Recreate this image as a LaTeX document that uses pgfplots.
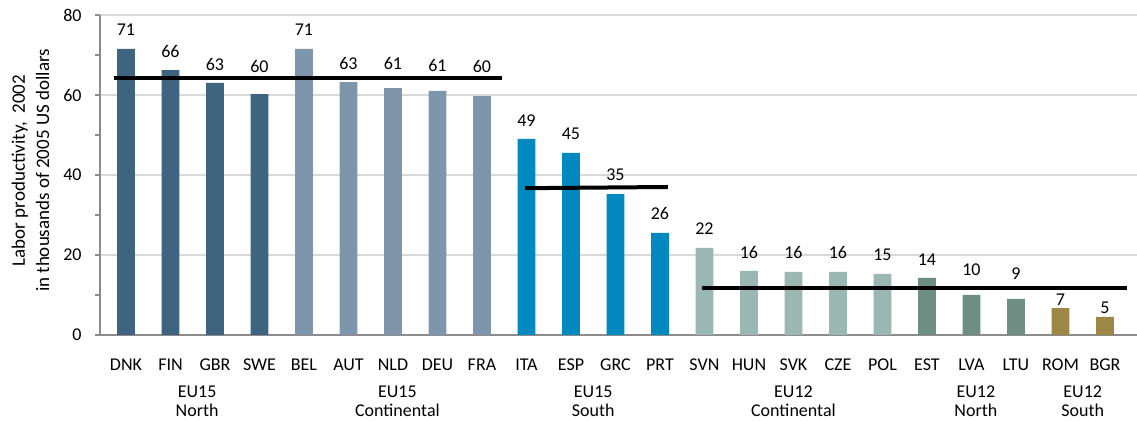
\documentclass[border=0pt]{standalone}
\usepackage{fontspec}
\setmainfont{Carlito}
\usepackage{pgfplots}
\pgfplotsset{compat=1.18}
\definecolor{cN}{HTML}{3F6480}
\definecolor{cC}{HTML}{7F95AC}
\definecolor{cS}{HTML}{0089BE}
\definecolor{dC}{HTML}{9AB7B1}
\definecolor{dN}{HTML}{6E8E84}
\definecolor{dS}{HTML}{9C8746}
\definecolor{axgray}{HTML}{8C8C8C}
\definecolor{gridgray}{HTML}{D9D9D9}
\begin{document}
\begin{tikzpicture}
\begin{axis}[
  scale only axis, width=518.5pt, height=160pt,
  xmin=-0.584, xmax=22.72, ymin=0, ymax=80,
  ybar, bar width=0.4, bar shift=0pt,
  font=\fontsize{9}{10.5}\selectfont,
  /pgf/number format/assume math mode=true,
  axis x line*=bottom, axis y line*=left,
  axis line style={axgray, line width=0.8pt},
  xtick={0,...,22},
  xticklabels={DNK,FIN,GBR,SWE,BEL,AUT,NLD,DEU,FRA,ITA,ESP,GRC,PRT,SVN,HUN,SVK,CZE,POL,EST,LVA,LTU,ROM,BGR},
  xtick style={draw=none},
  xticklabel style={anchor=base, yshift=-15.3pt},
  ytick={0,20,40,60,80}, minor ytick={10,30,50,70},
  tick align=outside, major tick length=2.5pt, minor tick length=2.5pt,
  ytick style={axgray, line width=0.6pt},
  ymajorgrids, major grid style={gridgray, line width=0.7pt},
  yticklabel style={anchor=east, inner sep=0pt, xshift=-6.5pt},
  ylabel={Labor productivity,~ 2002\\in thousands of 2005 US dollars},
  ylabel style={align=center, at={(axis description cs:-0.067,0.514)}, anchor=center, rotate=0, font=\fontsize{9.5}{12.2}\selectfont},
  clip=false,
]
\addplot[draw=none, fill=cN] coordinates {(0,71.5) (1,66.2) (2,63.0) (3,60.2)};
\addplot[draw=none, fill=cC] coordinates {(4,71.5) (5,63.2) (6,61.7) (7,61.0) (8,59.7)};
\addplot[draw=none, fill=cS] coordinates {(9,49.0) (10,45.5) (11,35.2) (12,25.5)};
\addplot[draw=none, fill=dC] coordinates {(13,21.8) (14,16.0) (15,15.8) (16,15.8) (17,15.3)};
\addplot[draw=none, fill=dN] coordinates {(18,14.3) (19,10.0) (20,9.0)};
\addplot[draw=none, fill=dS] coordinates {(21,6.7) (22,4.5)};
\addplot[sharp plot, black, line width=2pt] coordinates {(-0.27,64.2) (8.45,64.2)};
\addplot[sharp plot, black, line width=2pt] coordinates {(8.97,36.7) (12.18,37.0)};
\addplot[sharp plot, black, line width=2pt] coordinates {(12.94,11.7) (22.5,11.7)};
% value labels (baseline positions as placed in the reference)
\addplot[sharp plot, draw=none, mark=none, point meta=explicit symbolic, nodes near coords,
  every node near coord/.style={anchor=base, black, inner sep=0pt, yshift=0pt, font=\fontsize{9}{10.5}\selectfont}]
  coordinates {(0,74.75) [71] (1,69.3) [66] (2,66.0) [63] (3,65.6) [60]
    (4,74.75) [71] (5,66.25) [63] (6,66.25) [61] (7,65.8) [61] (8,65.6) [60]
    (9,52.1) [49] (10,48.9) [45] (11,38.6) [35] (12,28.75) [26]
    (13,25.0) [22] (14,19.2) [16] (15,19.2) [16] (16,19.2) [16] (17,18.5) [15]
    (18,17.25) [14] (19,14.75) [10] (20,13.75) [9] (21,7.25) [7] (22,5.25) [5]};
\node[align=center, font=\fontsize{9}{9.5}\selectfont] at (axis cs:1.6,0) [yshift=-33.25pt] {EU15\\North};
\node[align=center, font=\fontsize{9}{9.5}\selectfont] at (axis cs:6.1,0) [yshift=-33.25pt] {EU15\\Continental};
\node[align=center, font=\fontsize{9}{9.5}\selectfont] at (axis cs:10.5,0) [yshift=-33.25pt] {EU15\\South};
\node[align=center, font=\fontsize{9}{9.5}\selectfont] at (axis cs:15,0) [yshift=-33.25pt] {EU12\\Continental};
\node[align=center, font=\fontsize{9}{9.5}\selectfont] at (axis cs:19.1,0) [yshift=-33.25pt] {EU12\\North};
\node[align=center, font=\fontsize{9}{9.5}\selectfont] at (axis cs:21.5,0) [yshift=-33.25pt] {EU12\\South};
\end{axis}
\pgfresetboundingbox
\path[use as bounding box] (-50pt,-43pt) rectangle (518.5pt,167.5pt);
\end{tikzpicture}
\end{document}
